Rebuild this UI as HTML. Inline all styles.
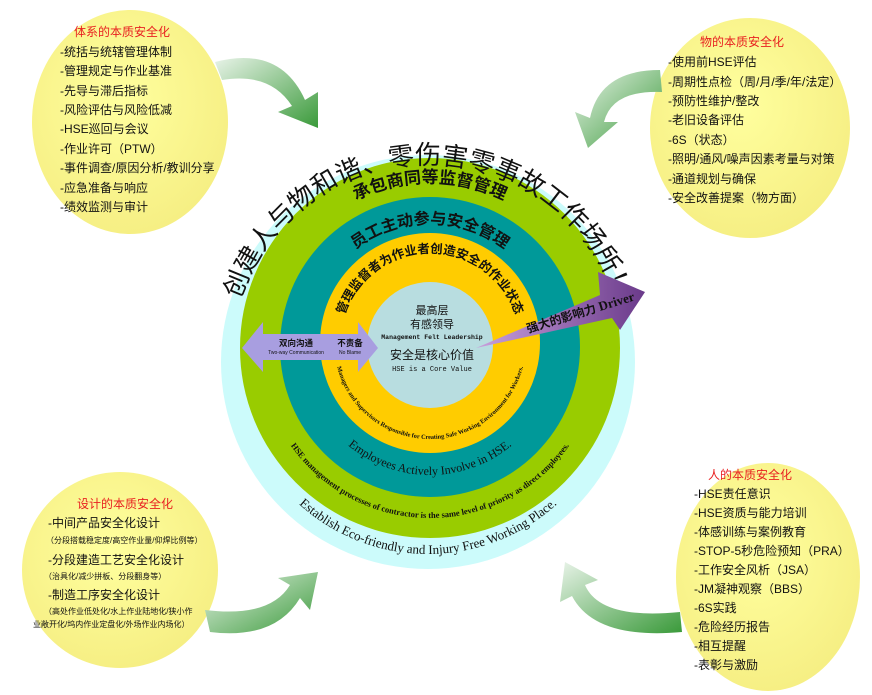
<!DOCTYPE html>
<html><head><meta charset="utf-8"><style>
html,body{margin:0;padding:0;background:#fff;}
svg{display:block;font-family:"Liberation Sans","Noto Sans CJK SC",sans-serif;}
</style></head><body>
<svg width="872" height="695" viewBox="0 0 872 695" xmlns="http://www.w3.org/2000/svg">
<defs>
<linearGradient id="ga" x1="0" y1="0" x2="1" y2="1"><stop offset="0" stop-color="#e8f3e8"/><stop offset="1" stop-color="#3a9a3a"/></linearGradient>
<linearGradient id="pu" x1="0" y1="0" x2="1" y2="0"><stop offset="0" stop-color="#c9a0dc"/><stop offset="1" stop-color="#6a3a8a"/></linearGradient>
<radialGradient id="yb" cx="0.45" cy="0.4" r="0.6"><stop offset="0" stop-color="#ffff9e"/><stop offset="1" stop-color="#f6ef84"/></radialGradient>
<path id="title" d="M 230 362 A 198 198 0 0 1 626 362"/>
<path id="bot" d="M 236 362 A 192 192 0 0 0 620 362"/>
<path id="g1" d="M 265 348 A 165 165 0 0 1 595 348"/>
<path id="g2" d="M 260 348 A 170 170 0 0 0 600 348"/>
<path id="t1" d="M 307 347 A 123 123 0 0 1 553 347"/>
<path id="t2" d="M 302 347 A 128 128 0 0 0 558 347"/>
<path id="y1" d="M 340 343 A 90 90 0 0 1 520 343"/>
<path id="y2" d="M 334 343 A 96 96 0 0 0 526 343"/>
</defs>

<ellipse cx="130" cy="122" rx="98" ry="112" fill="url(#yb)"/>
<ellipse cx="750" cy="128" rx="100" ry="110" fill="url(#yb)"/>
<ellipse cx="120" cy="570" rx="98" ry="98" fill="url(#yb)"/>
<ellipse cx="768" cy="577" rx="92" ry="114" fill="url(#yb)"/>

<path d="M 215 62 Q 280 45 305 100 L 318 92 L 318 128 L 278 112 L 292 106 Q 270 72 222 80 Z" fill="url(#ga)"/>
<path d="M 660 70 Q 600 70 590 118 L 575 112 L 588 148 L 618 122 L 604 122 Q 612 90 662 92 Z" fill="url(#ga)"/>
<path d="M 205 610 Q 270 618 290 585 L 278 578 L 318 572 L 310 610 L 300 598 Q 275 640 210 632 Z" fill="url(#ga)"/>
<path d="M 680 612 Q 600 620 585 585 L 598 580 L 565 562 L 560 602 L 572 596 Q 595 640 682 632 Z" fill="url(#ga)"/>

<circle cx="428" cy="362" r="207" fill="#ccfbfb"/>
<circle cx="430" cy="348" r="190" fill="#99cc00"/>
<circle cx="430" cy="347" r="150" fill="#009999"/>
<circle cx="430" cy="343" r="110" fill="#ffcc00"/>
<circle cx="430" cy="345" r="63" fill="#b8dde0"/>

<text font-size="26" fill="#111"><textPath href="#title" startOffset="50%" text-anchor="middle">创建人与物和谐、零伤害零事故工作场所！</textPath></text>
<text font-size="13" fill="#111" font-family="Liberation Serif,serif"><textPath href="#bot" startOffset="50%" text-anchor="middle">Establish Eco-friendly and Injury Free Working Place.</textPath></text>
<text font-size="17" fill="#111" font-weight="bold"><textPath href="#g1" startOffset="50%" text-anchor="middle">承包商同等监督管理</textPath></text>
<text font-size="8.5" fill="#111" font-weight="bold" font-family="Liberation Serif,serif"><textPath href="#g2" startOffset="50%" text-anchor="middle">HSE management processes of contractor is the same level of priority as direct employees.</textPath></text>
<text font-size="16" fill="#111" font-weight="bold"><textPath href="#t1" startOffset="50%" text-anchor="middle">员工主动参与安全管理</textPath></text>
<text font-size="12" fill="#111" font-family="Liberation Serif,serif"><textPath href="#t2" startOffset="50%" text-anchor="middle">Employees Actively Involve in HSE.</textPath></text>
<text font-size="12.5" fill="#111" font-weight="bold"><textPath href="#y1" startOffset="50%" text-anchor="middle">管理监督者为作业者创造安全的作业状态</textPath></text>
<text font-size="6.3" fill="#111" font-weight="bold" font-family="Liberation Serif,serif"><textPath href="#y2" startOffset="50%" text-anchor="middle">Managers and Supervisors Responsible for Creating Safe Working Environment for Workers.</textPath></text>

<g text-anchor="middle" fill="#111">
<text x="432" y="314" font-size="11">最高层</text>
<text x="432" y="328" font-size="11">有感领导</text>
<text x="432" y="339" font-size="6.5" font-family="Liberation Mono,monospace" font-weight="bold">Management Felt Leadership</text>
<text x="432" y="359" font-size="12">安全是核心价值</text>
<text x="432" y="371" font-size="7" font-family="Liberation Mono,monospace">HSE is a Core Value</text>
</g>

<polygon points="242,348 263,322 263,334 358,334 358,322 378,348 358,372 358,360 263,360 263,372" fill="#a89ee0"/>
<g text-anchor="middle" fill="#111">
<text x="296" y="346" font-size="8.5" font-weight="bold">双向沟通</text>
<text x="296" y="354" font-size="5">Two-way Communication</text>
<text x="350" y="346" font-size="8.5" font-weight="bold">不责备</text>
<text x="350" y="354" font-size="5">No Blame</text>
</g>
<polygon points="476,348 600,295 598,272 645,292 620,330 612,318" fill="url(#pu)"/>
<text x="0" y="0" font-size="12" font-weight="bold" fill="#111" transform="translate(528,333) rotate(-17)">强大的影响力 <tspan font-family="Liberation Serif,serif" font-size="13">Driver</tspan></text>

<g font-size="12" fill="#111">
<text x="122" y="36" fill="#e82020" text-anchor="middle">体系的本质安全化</text>
<text x="60" y="56">-统括与统辖管理体制</text>
<text x="60" y="75">-管理规定与作业基准</text>
<text x="60" y="95">-先导与滞后指标</text>
<text x="60" y="114">-风险评估与风险低减</text>
<text x="60" y="133">-HSE巡回与会议</text>
<text x="60" y="153">-作业许可（PTW）</text>
<text x="60" y="172">-事件调查/原因分析/教训分享</text>
<text x="60" y="192">-应急准备与响应</text>
<text x="60" y="211">-绩效监测与审计</text>

<text x="742" y="46" fill="#e82020" text-anchor="middle">物的本质安全化</text>
<text x="668" y="66">-使用前HSE评估</text>
<text x="668" y="86">-周期性点检（周/月/季/年/法定）</text>
<text x="668" y="105">-预防性维护/整改</text>
<text x="668" y="124">-老旧设备评估</text>
<text x="668" y="144">-6S（状态）</text>
<text x="668" y="163">-照明/通风/噪声因素考量与对策</text>
<text x="668" y="183">-通道规划与确保</text>
<text x="668" y="202">-安全改善提案（物方面）</text>

<text x="750" y="479" fill="#e82020" text-anchor="middle">人的本质安全化</text>
<text x="694" y="498">-HSE责任意识</text>
<text x="694" y="517">-HSE资质与能力培训</text>
<text x="694" y="536">-体感训练与案例教育</text>
<text x="694" y="555">-STOP-5秒危险预知（PRA）</text>
<text x="694" y="574">-工作安全风析（JSA）</text>
<text x="694" y="593">-JM凝神观察（BBS）</text>
<text x="694" y="612">-6S实践</text>
<text x="694" y="631">-危险经历报告</text>
<text x="694" y="650">-相互提醒</text>
<text x="694" y="669">-表彰与激励</text>

<text x="125" y="508" fill="#e82020" text-anchor="middle">设计的本质安全化</text>
<text x="48" y="527">-中间产品安全化设计</text>
<text x="48" y="564">-分段建造工艺安全化设计</text>
<text x="48" y="599">-制造工序安全化设计</text>
</g>
<g font-size="8" fill="#111">
<text x="46" y="543">（分段搭载稳定度/高空作业量/仰焊比例等）</text>
<text x="44" y="579">（治具化/减少拼板、分段翻身等）</text>
<text x="44" y="614">（高处作业低处化/水上作业陆地化/狭小作</text>
<text x="33" y="627">业敞开化/坞内作业定盘化/外场作业内场化）</text>
</g>
</svg>
</body></html>
